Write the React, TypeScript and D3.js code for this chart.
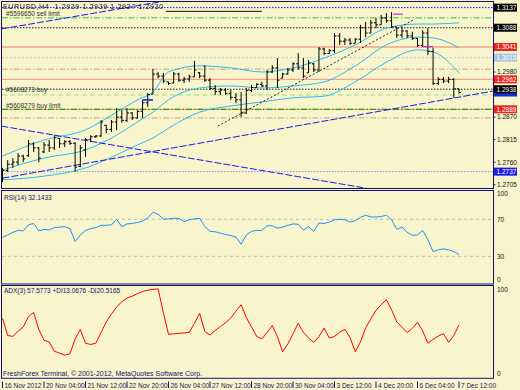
import React from "react";
import * as d3 from "d3";

// EURUSD H4, bars 16 Nov 2012 20:00 .. 7 Dec 2012 12:00
const opens = [1.2718,1.2740,1.2755,1.2760,1.2775,1.2776,1.2805,1.2795,1.2785,1.2802,
 1.2795,1.2818,1.2805,1.2810,1.2806,1.2750,1.2790,1.2815,1.2822,1.2824,
 1.2850,1.2840,1.2858,1.2870,1.2862,1.2880,1.2868,1.2884,1.2905,1.2926,
 1.2975,1.2970,1.2956,1.2953,1.2975,1.2960,1.2963,1.2968,1.2978,1.2970,
 1.2960,1.2940,1.2932,1.2936,1.2928,1.2918,1.2912,1.2880,1.2935,1.2942,
 1.2950,1.2946,1.2980,1.2990,1.2965,1.2975,1.2985,1.3000,1.2990,1.2978,
 1.3000,1.2985,1.3036,1.3025,1.3032,1.3068,1.3055,1.3058,1.3050,1.3060,
 1.3088,1.3075,1.3100,1.3095,1.3112,1.3105,1.3090,1.3070,1.3080,1.3068,
 1.3062,1.3045,1.3075,1.3030,1.2952,1.2962,1.2958,1.2962,1.2939];
const highs = [1.2746,1.2765,1.2770,1.2782,1.2778,1.2814,1.2809,1.2797,1.2809,1.2814,
 1.2826,1.2819,1.2814,1.2814,1.2809,1.2802,1.2819,1.2826,1.2826,1.2863,
 1.2851,1.2863,1.2892,1.2887,1.2892,1.2882,1.2887,1.2912,1.2929,1.2987,
 1.2980,1.2978,1.2956,1.2980,1.2978,1.2968,1.2973,1.3007,1.2980,1.2997,
 1.2965,1.2948,1.2941,1.2941,1.2936,1.2929,1.2931,1.2941,1.2948,1.2953,
 1.2956,1.2985,1.2997,1.3014,1.2978,1.2990,1.3004,1.3026,1.3014,1.3009,
 1.3002,1.3041,1.3039,1.3036,1.3075,1.3075,1.3063,1.3063,1.3063,1.3095,
 1.3102,1.3107,1.3112,1.3119,1.3124,1.3126,1.3090,1.3090,1.3082,1.3078,
 1.3063,1.3082,1.3087,1.3039,1.2968,1.2968,1.2968,1.2965,1.2939];
const lows = [1.2712,1.2736,1.2746,1.2753,1.2760,1.2773,1.2785,1.2760,1.2782,1.2785,
 1.2790,1.2795,1.2797,1.2802,1.2737,1.2748,1.2773,1.2809,1.2819,1.2822,
 1.2831,1.2834,1.2838,1.2856,1.2858,1.2863,1.2866,1.2868,1.2895,1.2926,
 1.2965,1.2953,1.2948,1.2953,1.2956,1.2953,1.2956,1.2968,1.2965,1.2956,
 1.2936,1.2924,1.2924,1.2924,1.2912,1.2904,1.2870,1.2878,1.2931,1.2941,
 1.2943,1.2936,1.2978,1.2941,1.2965,1.2973,1.2980,1.2985,1.2965,1.2978,
 1.2980,1.2980,1.3021,1.3024,1.3026,1.3046,1.3046,1.3046,1.3050,1.3051,
 1.3065,1.3075,1.3087,1.3095,1.3100,1.3087,1.3063,1.3063,1.3063,1.3058,
 1.3041,1.3041,1.3021,1.2948,1.2948,1.2953,1.2953,1.2917,1.2927];
const closes = [1.2740,1.2755,1.2760,1.2775,1.2768,1.2805,1.2795,1.2770,1.2802,1.2795,
 1.2820,1.2805,1.2810,1.2806,1.2748,1.2795,1.2815,1.2822,1.2824,1.2858,
 1.2840,1.2858,1.2870,1.2862,1.2880,1.2868,1.2884,1.2905,1.2925,1.2975,
 1.2970,1.2958,1.2952,1.2975,1.2960,1.2963,1.2968,1.2985,1.2970,1.2960,
 1.2940,1.2932,1.2936,1.2928,1.2918,1.2912,1.2880,1.2935,1.2942,1.2950,
 1.2946,1.2980,1.2990,1.2960,1.2975,1.2985,1.3000,1.2990,1.2970,1.3002,
 1.2985,1.3036,1.3025,1.3032,1.3068,1.3055,1.3058,1.3050,1.3060,1.3088,
 1.3075,1.3100,1.3095,1.3112,1.3105,1.3090,1.3070,1.3080,1.3068,1.3062,
 1.3045,1.3075,1.3030,1.2952,1.2962,1.2958,1.2962,1.2939,1.2930];

const rsi = [50.5,53,56,58,57.5,64,65.5,57.5,59,58.5,
 61,61.5,62,60,46,53,58,60,61,63.5,
 63.5,64,70,62,65,65.5,66.5,68,71.5,77.6,
 75.4,70,70.5,71,71,67.5,69.5,70.5,71,62,
 57,56.5,55,53.5,52.5,51,43,53,57,58,
 58,63,63,60.5,61.5,63.5,65,64.6,58.4,62,
 57,66,65.5,67,69.5,70,69.5,67,68.5,72,
 74.5,72.5,72.5,73,74.5,69.5,59.2,61.5,56,52.7,
 53,58,48,35,37,38,37,35,32.14];

const adx = [65,45,44,50,55,67,72,52,39.5,37.5,
 26.5,24.5,22,23.6,41,52,36,34.5,36,48.5,
 61,70,78.5,84.5,88.8,91,94,96.5,98,99,
 99.5,72,46.4,47,47.5,48,48.8,59.2,71,49.5,
 45.6,51,55.5,60,65.5,73.5,81,66,55,44,
 41,48.7,56.7,43.5,26,35,47,59.3,48.6,42,
 37,43.7,53.7,42,44,48.8,52.2,42.5,26,37.4,
 54,64.5,74.5,81,87,75,61,54.7,48.3,53.5,
 60.5,50.3,36,40.5,44.3,47.2,37,45,57.58];

// bollinger band knots (bar index -> price)
const bbIdx = [0, 8, 16, 22, 26, 29, 32, 38, 44, 50, 56, 62, 68, 74, 80, 83, 88];
const bbUpper = [1.2775,1.2814,1.2839,1.2882,1.2912,1.2931,1.2980,1.2995,1.2990,1.2980,1.2990,1.3014,1.3046,1.3087,1.3097,1.3097,1.3100];
const bbMid = [1.2741,1.2770,1.2790,1.2826,1.2858,1.2882,1.2912,1.2941,1.2946,1.2941,1.2946,1.2956,1.2995,1.3046,1.3065,1.3063,1.3039];
const bbLower = [1.2717,1.2726,1.2746,1.2778,1.2802,1.2819,1.2843,1.2882,1.2897,1.2907,1.2917,1.2921,1.2956,1.3004,1.3034,1.3029,1.2978];

// trend lines [bar, price]
const channelTop = [[-0.2, 1.3085], [31.3, 1.3153]];
const channelFall = [[-0.2, 1.2848], [70.8, 1.2695]];
const channelRise = [[0, 1.2721], [94.8, 1.2934]];
const dottedTrend = [[41.5, 1.2848], [79.5, 1.3109]];
const markerTop = [[75.3, 1.3121], [77.2, 1.3121]];
const markerMid = [[81.1, 1.3042], [83, 1.3042]];
const markerBuy = [[27, 1.2912], [29, 1.2912]];
const blackSeg = [[31.5, 1.3128], [50, 1.3128]];

const sellLimit = 1.3112;
const buyLevel = 1.2938;
const buyLimit = 1.2889;
const redLevels = [1.3041, 1.2962, 1.2889];
const blackDotted = [1.3088, 1.2938];
const tanLevels = [1.2987, 1.2868];
const lightGreen = 1.2924;
const topLevel = 1.3137;
const blueLevel = 1.3015;
const bottomLevel = 1.2737;

const priceTicks = [1.2980, 1.2870, 1.2815, 1.2760, 1.2705];
const markLabels = [
  { p: 1.3137, bg: "#000000" },
  { p: 1.3088, bg: "#000000" },
  { p: 1.3041, bg: "#e8261e" },
  { p: 1.3015, bg: "#a9c3e2" },
  { p: 1.2962, bg: "#e8261e" },
  { p: 1.2938, bg: "#000000" },
  { p: 1.2889, bg: "#e8261e" },
  { p: 1.2737, bg: "#1c1ce6" },
];
const bidPrice = 1.2930;

const dateTicks = [0, 8, 16, 24, 32, 40, 48, 56, 64, 72, 80, 88];
const dateLabels = ["16 Nov 2012", "20 Nov 04:00", "21 Nov 12:00", "22 Nov 20:00", "26 Nov 04:00",
  "27 Nov 12:00", "28 Nov 20:00", "30 Nov 04:00", "3 Dec 12:00", "4 Dec 20:00", "6 Dec 04:00", "7 Dec 12:00"];

const titleText = "EURUSD,H4  1.2939 1.2939 1.2927 1.2930";

export default function App() {
  const W = 520, H = 390;
  const R = 493.5;
  const font = "'Liberation Sans', Arial, sans-serif";
  const navy = "#14146e";

  const x = d3.scaleLinear().domain([0, 88]).range([2.5, 459]);
  const y = d3.scaleLinear().domain([1.2705, 1.3137]).range([184.75, 7.63]);
  const yR = d3.scaleLinear().domain([30, 70]).range([256.3, 219.3]);
  const yA = d3.scaleLinear().domain([0, 100]).range([374, 288.5]);

  const band = d3.line<number>().x((_, k) => x(bbIdx[k])).y((d) => y(d)).curve(d3.curveMonotoneX);
  const rsiLine = d3.line<number>().x((_, i) => x(i)).y((d) => yR(d));
  const adxLine = d3.line<number>().x((_, i) => x(i)).y((d) => yA(d));
  const seg = (s: number[][]) => `M${x(s[0][0])},${y(s[0][1])}L${x(s[1][0])},${y(s[1][1])}`;

  const bars = opens.map((o, i) => {
    const cx = x(i);
    return `M${cx},${y(highs[i])}V${y(lows[i])}M${cx - 2},${y(o)}H${cx}M${cx},${y(closes[i])}H${cx + 2}`;
  }).join("");

  const hline = (p: number, stroke: string, dash?: string, w = 1) => (
    <line key={p + stroke} x1={2} x2={R} y1={y(p)} y2={y(p)} stroke={stroke} strokeWidth={w} strokeDasharray={dash} />
  );

  return (
    <div style={{ position: "absolute", left: 0, top: 0 }}>
      <svg width={W} height={H} style={{ display: "block" }} fontFamily={font}>
        <defs>
          <clipPath id="cMain"><rect x={2} y={2} width={491} height={186} /></clipPath>
          <clipPath id="cRsi"><rect x={2} y={191} width={491} height={92} /></clipPath>
          <clipPath id="cAdx"><rect x={2} y={286} width={491} height={92} /></clipPath>
        </defs>
        <rect width={W} height={H} fill="#f8f5cc" />

        <g clipPath="url(#cMain)">
          {hline(topLevel, "#1515ff", "1.5,1.5")}
          {hline(sellLimit, "#33c233", "6,2,1.5,2")}
          {blackDotted.map((p) => hline(p, "#222", "1.5,1.5"))}
          {redLevels.map((p) => hline(p, "#f2a48c", undefined, 1.3))}
          {hline(blueLevel, "#b3cde8", "2,2")}
          {tanLevels.map((p) => hline(p, "#c9a57c", "6,2,1.5,2"))}
          {hline(lightGreen, "#98e07a", "5,3")}
          {hline(buyLimit, "#2f9a12", "6,2,1.5,2", 1.3)}
          {hline(bottomLevel, "#8d8df0", "1.5,1.5")}

          <path d={band(bbUpper) || ""} fill="none" stroke="#2dbaf2" strokeWidth={1} />
          <path d={band(bbMid) || ""} fill="none" stroke="#2dbaf2" strokeWidth={1} />
          <path d={band(bbLower) || ""} fill="none" stroke="#2dbaf2" strokeWidth={1} />

          <path d={seg(channelTop)} stroke="#1c1ce6" strokeWidth={1} strokeDasharray="7,2" />
          <path d={seg(channelFall)} stroke="#1c1ce6" strokeWidth={1} strokeDasharray="7,2" />
          <path d={seg(channelRise)} stroke="#1c1ce6" strokeWidth={1} strokeDasharray="7,2" />
          <path d={seg(dottedTrend)} stroke="#222" strokeWidth={1} strokeDasharray="2,2" />
          <path d={seg(blackSeg)} stroke="#111" strokeWidth={1} />

          <path d={bars} fill="none" stroke="#000" strokeWidth={1} />

          <path d={seg(markerTop)} stroke="#d040d0" strokeWidth={1.3} />
          <path d={seg(markerMid)} stroke="#b030e0" strokeWidth={1.3} />
          <path d={seg(markerBuy)} stroke="#1a3af0" strokeWidth={1.8} />

          <text x={3} y={9} fontSize={7} fill="#111" textLength={160} lengthAdjust="spacing"
            style={{ whiteSpace: "pre" }}>{titleText}</text>
          <text x={6} y={y(sellLimit) - 1.8} fontSize={6.5} fill="#333">#5596650 sell limit</text>
          <text x={6} y={y(buyLevel) + 2.4} fontSize={6.5} fill="#333">#5608273 buy</text>
          <text x={6} y={y(buyLimit) - 1.2} fontSize={6.5} fill="#333">#5608279 buy limit</text>
        </g>

        {/* RSI */}
        <g clipPath="url(#cRsi)">
          {[70, 30].map((v) => (
            <line key={v} x1={2} x2={R} y1={yR(v)} y2={yR(v)} stroke="#bdbdbd" strokeDasharray="3,3" />
          ))}
          <path d={rsiLine(rsi) || ""} fill="none" stroke="#1e90ff" strokeWidth={1} />
          <text x={4} y={200} fontSize={6.5} fill={navy}>RSI(14) 32.1433</text>
        </g>

        {/* ADX */}
        <g clipPath="url(#cAdx)">
          <path d={adxLine(adx) || ""} fill="none" stroke="#ff0000" strokeWidth={1} />
          <text x={4} y={293} fontSize={6.5} fill={navy}>ADX(3) 57.5773 +DI13.0676 -DI20.5165</text>
          <text x={3} y={376} fontSize={7} fill={navy}>FreshForex Terminal, © 2001-2012, MetaQuotes Software Corp.</text>
        </g>

        {/* frames */}
        <rect x={1.5} y={1.5} width={R - 1.5} height={187} fill="none" stroke={navy} />
        <rect x={1.5} y={190.5} width={R - 1.5} height={93.5} fill="none" stroke={navy} />
        <rect x={1.5} y={285.5} width={R - 1.5} height={92.8} fill="none" stroke={navy} />

        {/* price axis */}
        {priceTicks.map((p) => (
          <g key={p}>
            <line x1={R} x2={R + 2} y1={y(p)} y2={y(p)} stroke={navy} />
            <text x={497} y={y(p) + 2.3} fontSize={6.5} fill="#111">{p.toFixed(4)}</text>
          </g>
        ))}
        {/* bid marker, mostly covered by the 1.2938 label */}
        <rect x={494} y={y(bidPrice) - 4} width={23} height={8} fill="#1a2ad0" />
        {markLabels.map((m) => (
          <g key={m.p}>
            <rect x={494} y={y(m.p) - 4} width={23} height={8} fill={m.bg} />
            <text x={496.5} y={y(m.p) + 2.4} fontSize={6.5} fill="#fff">{m.p.toFixed(4)}</text>
          </g>
        ))}

        {/* indicator axes */}
        {[["100", 196], ["70", yR(70) + 2.3], ["30", yR(30) + 2.3], ["0", 282]].map(([t, py]) => (
          <text key={"r" + t} x={497} y={py as number} fontSize={6.5} fill="#111">{t}</text>
        ))}
        {[["100", yA(100) + 3.5], ["0", yA(0) + 2.3]].map(([t, py]) => (
          <text key={"a" + t} x={497} y={py as number} fontSize={6.5} fill="#111">{t}</text>
        ))}

        {/* date axis */}
        {dateTicks.map((i, k) => (
          <g key={i}>
            <line x1={x(i)} x2={x(i)} y1={381.5} y2={388} stroke={navy} />
            <text x={x(i) + 2} y={387.5} fontSize={6.5} fill={navy}>{dateLabels[k]}</text>
          </g>
        ))}
      </svg>
    </div>
  );
}
